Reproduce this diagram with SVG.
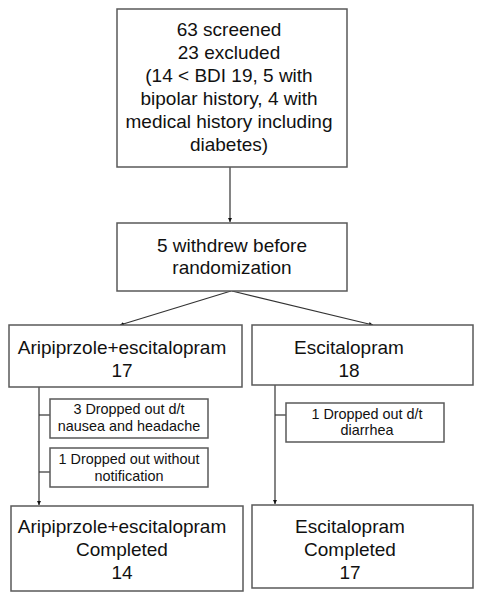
<svg xmlns="http://www.w3.org/2000/svg" width="481" height="601" viewBox="0 0 481 601">
<style>
.box{fill:#fff;stroke:#595959;stroke-width:1.5}
.t{font-family:"Liberation Sans",Arial,sans-serif;font-size:19px;fill:#111;text-anchor:middle}
.s{font-family:"Liberation Sans",Arial,sans-serif;font-size:14.4px;fill:#111;text-anchor:middle}
.c{fill:none;stroke:#333;stroke-width:1.2}
</style>
<defs>
<marker id="ah" viewBox="0 0 6 6" refX="6" refY="3" markerWidth="4" markerHeight="4" orient="auto" markerUnits="userSpaceOnUse">
<path d="M0,0 L6,3 L0,6 z" fill="#111"/>
</marker>
</defs>
<rect width="481" height="601" fill="#fff"/>
<g id="connectors">
<line class="c" x1="230" y1="167" x2="230" y2="222" marker-end="url(#ah)"/>
<line class="c" x1="231" y1="291" x2="120" y2="325" marker-end="url(#ah)"/>
<line class="c" x1="232" y1="291" x2="373" y2="325" marker-end="url(#ah)"/>
<line class="c" x1="39" y1="387" x2="39" y2="505" marker-end="url(#ah)"/>
<line class="c" x1="275" y1="385" x2="275" y2="504" marker-end="url(#ah)"/>
<line class="c" x1="39" y1="415" x2="50" y2="415"/>
<line class="c" x1="39" y1="472" x2="50" y2="472"/>
<line class="c" x1="275" y1="415" x2="286" y2="415"/>
</g>
<g id="screened">
<rect class="box" x="117" y="9" width="230" height="158"/>
<text class="t" x="229" y="36">63 screened</text>
<text class="t" x="229" y="59">23 excluded</text>
<text class="t" x="229" y="82">(14 &lt; BDI 19, 5 with</text>
<text class="t" x="229" y="105">bipolar history, 4 with</text>
<text class="t" x="229" y="128">medical history including</text>
<text class="t" x="229" y="151">diabetes)</text>
</g>
<g id="withdrew">
<rect class="box" x="117" y="223" width="230" height="68"/>
<text class="t" x="232" y="252">5 withdrew before</text>
<text class="t" x="232" y="274">randomization</text>
</g>
<g id="arm1">
<rect class="box" x="9" y="325" width="233" height="62"/>
<text class="t" x="122" y="354">Aripiprzole+escitalopram</text>
<text class="t" x="122" y="377">17</text>
</g>
<g id="arm2">
<rect class="box" x="252" y="325" width="221" height="60"/>
<text class="t" x="349" y="354">Escitalopram</text>
<text class="t" x="349" y="377">18</text>
</g>
<g id="drop1">
<rect class="box" x="50" y="399" width="158" height="39"/>
<text class="s" x="129" y="414">3 Dropped out d/t</text>
<text class="s" x="129" y="431">nausea and headache</text>
</g>
<g id="drop2">
<rect class="box" x="50" y="448" width="158" height="39"/>
<text class="s" x="129" y="464">1 Dropped out without</text>
<text class="s" x="129" y="481">notification</text>
</g>
<g id="drop3">
<rect class="box" x="286" y="403" width="158" height="39"/>
<text class="s" x="367" y="419">1 Dropped out d/t</text>
<text class="s" x="367" y="435">diarrhea</text>
</g>
<g id="done1">
<rect class="box" x="11" y="506" width="232" height="85"/>
<text class="t" x="122" y="533">Aripiprzole+escitalopram</text>
<text class="t" x="122" y="556">Completed</text>
<text class="t" x="122" y="579">14</text>
</g>
<g id="done2">
<rect class="box" x="252" y="505" width="221" height="83"/>
<text class="t" x="350" y="533">Escitalopram</text>
<text class="t" x="350" y="556">Completed</text>
<text class="t" x="350" y="579">17</text>
</g>
</svg>
